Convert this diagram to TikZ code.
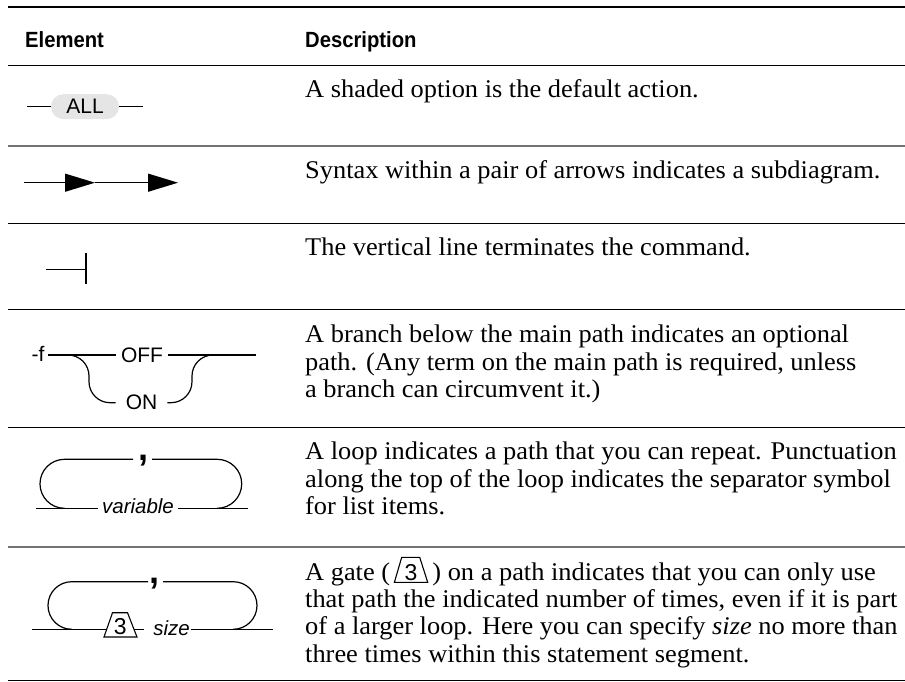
\documentclass[tikz,border=0pt]{standalone}
\usepackage{fontspec}
\setmainfont{Liberation Serif}
\newfontfamily\serifx{Liberation Serif}[FakeStretch=1.035]
\newfontfamily\sansx{Liberation Sans}
\newfontfamily\hdrx{Liberation Sans}[FakeStretch=0.92]
\usetikzlibrary{arrows.meta,calc}
\begin{document}
\begin{tikzpicture}[x=1pt,y=-1pt,
  syn/.style={line width=1.2pt},
  desc/.style={anchor=base west, inner sep=0pt, font=\serifx\fontsize{25.5}{27.5}\selectfont},
  head/.style={anchor=base west, inner sep=0pt, font=\hdrx\bfseries\fontsize{22}{24}\selectfont},
  lbl/.style={inner xsep=4pt, inner ysep=0pt, font=\sansx\fontsize{21}{22}\selectfont},
  ilbl/.style={anchor=base, inner xsep=4pt, inner ysep=0pt, font=\sansx\itshape\fontsize{20.5}{22}\selectfont},
  digit/.style={anchor=base, inner sep=0pt, font=\sansx\fontsize{23}{24}\selectfont},
  comma/.style={inner sep=0pt, font=\sansx\bfseries\fontsize{36}{36}\selectfont},
  tip/.style={-{Triangle[length=30pt,width=18pt]}},
  allbox/.style={fill=black!10, rounded corners=12.5pt, minimum width=68pt, minimum height=25pt, inner sep=0pt, font=\sansx\fontsize{21}{22}\selectfont}
]
\useasboundingbox (0,0) rectangle (905,682);

% table rules
\draw[line width=2pt] (8,6.7) -- (905,6.7);
\draw[line width=1.5pt] (8,65.3) -- (905,65.3);
\draw[line width=1.2pt, black!55] (8,146) -- (905,146);
\draw[line width=1pt] (8,223) -- (905,223);
\draw[line width=1pt] (8,309.3) -- (905,309.3);
\draw[line width=1.1pt] (8,427.3) -- (905,427.3);
\draw[line width=1.2pt, black!55] (8,547) -- (905,547);
\draw[line width=1.8pt] (8,680.5) -- (905,680.5);

% headers
\node[head] (h1) at (25,47.5) {Element};
\node[head] (h2) at (305,47.5) {Description};

% row 1
\node[allbox] (all) at (85,106.7) {ALL};
\coordinate (a1) at (27,106.7);
\coordinate (a2) at (143,106.7);
\draw[syn] (a1) -- (all.west);
\draw[syn] (all.east) -- (a2);

% row 2
\coordinate (b1) at (24,182.7);
\coordinate (b2) at (95,182.7);
\coordinate (b3) at (178,182.7);
\draw[syn,tip] (b1) -- (b2);
\draw[syn,tip] (b2) -- (b3);

% row 3
\coordinate (c1) at (46,269.3);
\coordinate (c2) at (86,269.3);
\coordinate (c3) at (86,253.3);
\coordinate (c4) at (86,284.3);
\draw[syn] (c1) -- (c2);
\draw[syn] (c3) -- (c4);

% row 4
\node[lbl, inner xsep=0pt] (f) at (38,354) {-f};
\node[lbl, inner xsep=5pt] (off) at (142,355) {OFF};
\node[lbl, inner xsep=10pt] (on) at (141.5,402.7) {ON};
\coordinate (d1) at (48,355);
\coordinate (d2) at (256,355);
\coordinate (e1) at (65,355);
\coordinate (e4) at (216,355);
\draw[syn] (d1) -- (d1 -| off.west);
\draw[syn] (d2 -| off.east) -- (d2);
\draw[syn, rounded corners=21pt] (e1) -- (89,355) -- (89,402.7) -- (on.west);
\draw[syn, rounded corners=21pt] (on.east) -- (192,402.7) -- (192,355) -- (e4);

% row 5
\coordinate (t1) at (133,459.3);
\coordinate (t2) at (152,459.3);
\node[comma] (cm1) at (143.3,461) {,};
\draw[syn] (t1) -- (64.5,459.3) arc[start angle=90, end angle=270, radius=24.5pt];
\draw[syn] (t2) -- (217.2,459.3) arc[start angle=90, end angle=-90, radius=24.5pt];
\node[ilbl] (var) at (138,513) {variable};
\coordinate (v1) at (36,508.3);
\coordinate (v2) at (248,508.3);
\draw[syn] (v1) -- (v1 -| var.west);
\draw[syn] (v2 -| var.east) -- (v2);

% row 6
\coordinate (t3) at (148,581.7);
\coordinate (t4) at (163,581.7);
\node[comma] (cm2) at (154.5,583.5) {,};
\draw[syn] (t3) -- (71.8,581.7) arc[start angle=90, end angle=270, radius=23.8pt];
\draw[syn] (t4) -- (233.2,581.7) arc[start angle=90, end angle=-90, radius=23.8pt];
\coordinate (g1) at (104,637);
\coordinate (g2) at (112.5,612.7);
\coordinate (g3) at (127.5,612.7);
\coordinate (g4) at (137,637);
\draw[line width=1.1pt] (g1) -- (g2) -- (g3) -- (g4) -- cycle;
\node[digit] (three) at (120.3,634.5) {3};
\coordinate (s1) at (32,629.3);
\coordinate (s2) at (106.7,629.3);
\coordinate (s3) at (134.3,629.3);
\coordinate (s4) at (144,629.3);
\coordinate (s5) at (273,629.3);
\node[ilbl, inner xsep=1pt] (size) at (171.5,635) {size};
\draw[syn] (s1) -- (s2);
\draw[syn] (s3) -- (s4);
\draw[syn] (size.east |- s5) -- (s5);

% descriptions
\node[desc] (r1) at (305,97.5) {A shaded option is the default action.};
\node[desc] (r2) at (305,178.3) {Syntax within a pair of arrows indicates a subdiagram.};
\node[desc] (r3) at (305,255) {The vertical line terminates the command.};
\node[desc] (r4a) at (305,342.7) {A branch below the main path indicates an optional};
\node[desc] (r4b) at (305,370.3) {path. (Any term on the main path is required, unless};
\node[desc] (r4c) at (305,397.9) {a branch can circumvent it.)};
\node[desc] (r5a) at (305,459.3) {A loop indicates a path that you can repeat. Punctuation};
\node[desc] (r5b) at (305,487) {along the top of the loop indicates the separator symbol};
\node[desc] (r5c) at (305,514.6) {for list items.};
\node[desc] (r6a) at (305,580) {A gate (};
\coordinate (ig) at ($(r6a.base east)+(4,2.3)$);
\draw[line width=1.1pt] (ig) -- ++(7.3,-25) -- ++(18,0) -- ++(8,25) -- cycle;
\node[digit] (ithree) at ($(ig)+(16.6,-2.3)$) {3};
\node[desc] (r6b) at ($(ig)+(37.8,-2.3)$) {) on a path indicates that you can only use};
\node[desc] (r6c) at (305,607.3) {that path the indicated number of times, even if it is part};
\node[desc] (r6d) at (305,634.6) {of a larger loop. Here you can specify \textit{size} no more than};
\node[desc] (r6e) at (305,662) {three times within this statement segment.};
\end{tikzpicture}
\end{document}
